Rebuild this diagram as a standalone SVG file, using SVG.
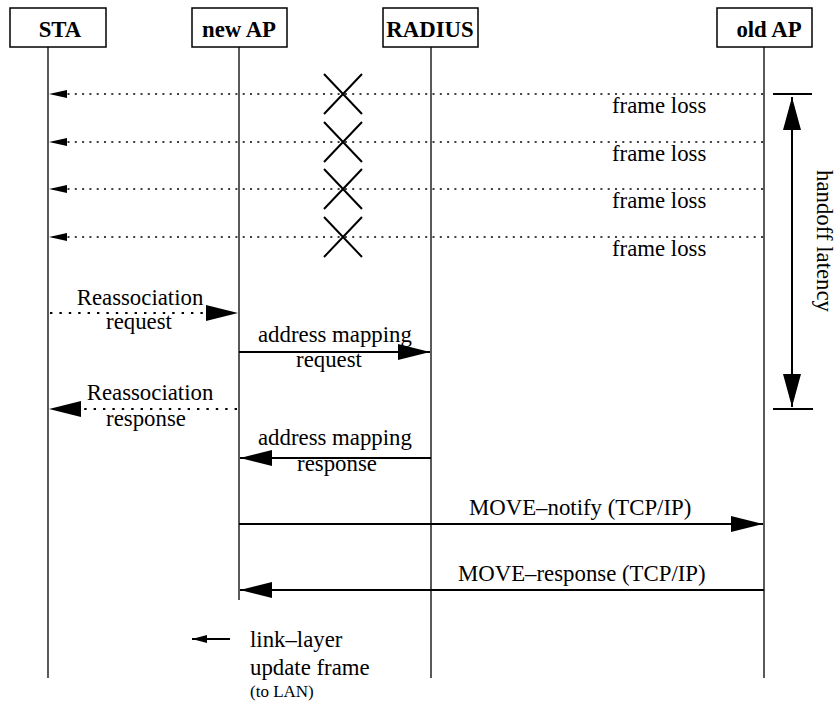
<svg xmlns="http://www.w3.org/2000/svg" width="838" height="703" viewBox="0 0 838 703">
<style>
  text { font-family: "Liberation Serif", "Times New Roman", serif; font-size: 22.8px; fill: #000; }
  .hdr { font-weight: bold; text-anchor: middle; }
  .mid { text-anchor: middle; }
  .box { fill: #fff; stroke: #000; stroke-width: 1.5; }
  .life { stroke: #000; stroke-width: 1.3; fill: none; }
  .msg { stroke: #000; stroke-width: 2; fill: none; }
  .loss { stroke: #000; stroke-width: 1.5; stroke-dasharray: 2 5.3; fill: none; }
  .dot { stroke: #000; stroke-width: 2.2; stroke-dasharray: 2.4 7; fill: none; }
  .x { stroke: #000; stroke-width: 2; }
  .bar { stroke: #000; stroke-width: 2; }
</style>
<defs>
  <marker id="big" markerUnits="userSpaceOnUse" markerWidth="33" markerHeight="17" refX="32" refY="8" orient="auto">
    <path d="M0,0 L32,8 L0,16 z" fill="#000"/>
  </marker>
  <marker id="small" markerUnits="userSpaceOnUse" markerWidth="19" markerHeight="9" refX="18" refY="4" orient="auto">
    <path d="M0,0 L18,4 L0,8 z" fill="#000"/>
  </marker>
  <marker id="lat" markerUnits="userSpaceOnUse" markerWidth="34" markerHeight="19" refX="33" refY="9" orient="auto-start-reverse">
    <path d="M0,0 L33,9 L0,18 z" fill="#000"/>
  </marker>
  <marker id="tiny" markerUnits="userSpaceOnUse" markerWidth="16" markerHeight="9" refX="15" refY="4" orient="auto">
    <path d="M0,0 L15,4 L0,8 z" fill="#000"/>
  </marker>
</defs>

<g id="node-sta">
  <line class="life" x1="48" y1="47" x2="48" y2="678"/>
  <rect class="box" x="10" y="8" width="96" height="39"/>
  <text class="hdr" x="60" y="37">STA</text>
</g>
<g id="node-newap">
  <line class="life" x1="239" y1="47" x2="239" y2="600"/>
  <rect class="box" x="192" y="8" width="95" height="39"/>
  <text class="hdr" x="239" y="37">new AP</text>
</g>
<g id="node-radius">
  <line class="life" x1="431" y1="47" x2="431" y2="678"/>
  <rect class="box" x="383" y="8" width="95" height="39"/>
  <text class="hdr" x="430" y="37">RADIUS</text>
</g>
<g id="node-oldap">
  <line class="life" x1="764" y1="47" x2="764" y2="678"/>
  <rect class="box" x="717" y="8" width="95" height="39"/>
  <text class="hdr" x="769" y="37">old AP</text>
</g>

<g id="connectors">
  <!-- frame loss -->
  <line class="loss" x1="763" y1="94" x2="49" y2="94" marker-end="url(#small)"/>
  <line class="loss" x1="763" y1="142" x2="49" y2="142" marker-end="url(#small)"/>
  <line class="loss" x1="763" y1="189" x2="49" y2="189" marker-end="url(#small)"/>
  <line class="loss" x1="763" y1="237" x2="49" y2="237" marker-end="url(#small)"/>
  <g id="crosses">
    <path class="x" d="M324,74 L362,114 M362,74 L324,114"/>
    <path class="x" d="M324,122 L362,162 M362,122 L324,162"/>
    <path class="x" d="M324,169 L362,209 M362,169 L324,209"/>
    <path class="x" d="M324,217 L362,257 M362,217 L324,257"/>
  </g>
  <!-- reassociation request -->
  <line class="dot" x1="50" y1="313" x2="238" y2="313" marker-end="url(#big)"/>
  <!-- address mapping request -->
  <line class="msg" x1="239" y1="352" x2="430" y2="352" marker-end="url(#big)"/>
  <!-- reassociation response -->
  <line class="dot" x1="237" y1="409" x2="49" y2="409" marker-end="url(#big)"/>
  <!-- address mapping response -->
  <line class="msg" x1="431" y1="458" x2="240" y2="458" marker-end="url(#big)"/>
  <!-- MOVE notify -->
  <line class="msg" x1="239" y1="524" x2="763" y2="524" marker-end="url(#big)"/>
  <!-- MOVE response -->
  <line class="msg" x1="764" y1="590" x2="240" y2="590" marker-end="url(#big)"/>
  <!-- link-layer update -->
  <line class="msg" x1="230" y1="639" x2="192" y2="639" marker-end="url(#tiny)"/>
  <!-- handoff latency -->
  <line class="bar" x1="773" y1="94" x2="812" y2="94"/>
  <line class="bar" x1="773" y1="409" x2="813" y2="409"/>
  <line class="msg" x1="792" y1="97" x2="792" y2="407" marker-start="url(#lat)" marker-end="url(#lat)"/>
</g>

<g id="labels">
  <text x="612" y="113">frame loss</text>
  <text x="612" y="161">frame loss</text>
  <text x="612" y="208">frame loss</text>
  <text x="612" y="256">frame loss</text>
  <text class="mid" transform="translate(817,241) rotate(90)">handoff latency</text>

  <text class="mid" x="140" y="305">Reassociation</text>
  <text class="mid" x="139" y="329">request</text>

  <text x="258" y="342">address mapping</text>
  <text class="mid" x="329" y="367">request</text>

  <text class="mid" x="150" y="400">Reassociation</text>
  <text class="mid" x="146" y="426">response</text>

  <text x="258" y="445">address mapping</text>
  <text class="mid" x="337" y="471">response</text>

  <text x="469" y="515">MOVE–notify (TCP/IP)</text>
  <text x="458" y="581">MOVE–response (TCP/IP)</text>

  <text x="250" y="647">link–layer</text>
  <text x="250" y="675">update frame</text>
  <text x="250" y="697" style="font-size:17px">(to LAN)</text>
</g>
</svg>
